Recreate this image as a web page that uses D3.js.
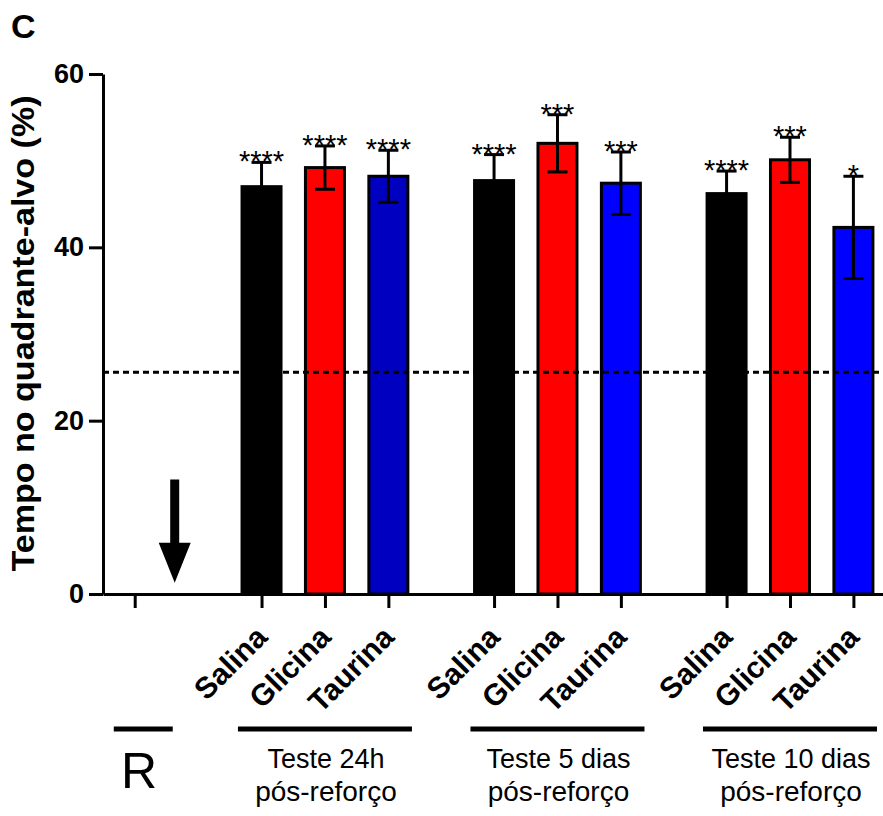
<!DOCTYPE html>
<html>
<head>
<meta charset="utf-8">
<script src="https://cdn.jsdelivr.net/npm/d3@7"></script>
<style>
  html, body { margin: 0; padding: 0; background: #fff; }
  svg { display: block; }
  text { font-family: "Liberation Sans", Arial, sans-serif; fill: #000; }
</style>
</head>
<body>
<svg id="chart" width="883" height="816"></svg>
<script>
// Treatments within each test session
const treatments = ["Salina", "Glicina", "Taurina"];
// Test sessions (two-line labels under the brackets)
const sessionLine1 = ["Teste 24h", "Teste 5 dias", "Teste 10 dias"];
const sessionLine2 = ["pós-reforço", "pós-reforço", "pós-reforço"];
// Mean time in target quadrant (%) per session
const salinaMean  = [47.0, 47.7, 46.2];
const glicinaMean = [49.2, 52.0, 50.1];
const taurinaMean = [48.2, 47.4, 42.3];
// Standard error of the mean per session
const salinaSem  = [2.8, 3.0, 2.6];
const glicinaSem = [2.5, 3.3, 2.6];
const taurinaSem = [3.0, 3.6, 5.9];
// Significance marks vs. chance level
const salinaStars  = ["****", "****", "****"];
const glicinaStars = ["****", "***", "***"];
const taurinaStars = ["****", "***", "*"];
// Chance level (dashed reference line)
const chanceLevel = 25.6;
// Y axis ticks
const yTicks = [0, 20, 40, 60];
// Reinforcement (R) arrow span, in % units
const arrowTop = 13.2;
const arrowTip = 1.3;

const FONT = '"Liberation Sans", Arial, sans-serif';
const fills = {
  Salina: ["#000000", "#000000", "#000000"],
  Glicina: ["#ff0000", "#ff0000", "#ff0000"],
  Taurina: ["#0000c0", "#0000ff", "#0000ff"]
};

const means = { Salina: salinaMean, Glicina: glicinaMean, Taurina: taurinaMean };
const sems = { Salina: salinaSem, Glicina: glicinaSem, Taurina: taurinaSem };
const stars = { Salina: salinaStars, Glicina: glicinaStars, Taurina: taurinaStars };

// Slot layout: R at slot 0, sessions start at slot 2, separated by an extra gap
const groupGap = 2 / 3;
const slotOf = (g, m) => 2 + g * (treatments.length + groupGap) + m;

const bars = [];
sessionLine1.forEach((s, g) => {
  treatments.forEach((t, m) => {
    bars.push({ g, t, slot: slotOf(g, m), mean: means[t][g], sem: sems[t][g], star: stars[t][g], fill: fills[t][g] });
  });
});

const svg = d3.select("#chart");
const x = d3.scaleLinear().domain([-0.5, 11.8]).range([103, 883]);
const y = d3.scaleLinear().domain([0, 60]).range([594, 74]);
const barW = 42;

// Bars
svg.append("g").selectAll("rect").data(bars).join("rect")
  .attr("x", d => x(d.slot) - barW / 2 + 1.5)
  .attr("width", barW - 3)
  .attr("y", d => y(d.mean))
  .attr("height", d => y(0) - y(d.mean))
  .attr("fill", d => d.fill)
  .attr("stroke", "#000")
  .attr("stroke-width", 3);

// Error bars
const eg = svg.append("g").attr("stroke", "#000").attr("stroke-width", 3).attr("fill", "none");
bars.forEach(d => {
  const cx = x(d.slot);
  eg.append("line").attr("x1", cx).attr("x2", cx).attr("y1", y(d.mean - d.sem)).attr("y2", y(d.mean + d.sem));
  eg.append("line").attr("x1", cx - 10).attr("x2", cx + 10).attr("y1", y(d.mean + d.sem)).attr("y2", y(d.mean + d.sem));
  eg.append("line").attr("x1", cx - 10).attr("x2", cx + 10).attr("y1", y(d.mean - d.sem)).attr("y2", y(d.mean - d.sem));
});

// Significance asterisks
svg.append("g").selectAll("text").data(bars).join("text")
  .attr("x", d => x(d.slot))
  .attr("y", d => y(d.mean + d.sem) + 9)
  .attr("text-anchor", "middle")
  .attr("font-size", 29)
  .text(d => d.star);

// Chance level
svg.append("line")
  .attr("x1", x.range()[0]).attr("x2", x.range()[1])
  .attr("y1", y(chanceLevel)).attr("y2", y(chanceLevel))
  .attr("stroke", "#000").attr("stroke-width", 3).attr("stroke-dasharray", "6,4");

// Y axis
const yAxis = svg.append("g").attr("transform", `translate(${x.range()[0]},0)`)
  .call(d3.axisLeft(y).tickValues(yTicks).tickSize(14).tickSizeOuter(0).tickPadding(5));
yAxis.selectAll("path, line").attr("stroke", "#000").attr("stroke-width", 3);
yAxis.selectAll("text").attr("font-family", FONT).attr("font-size", 27).attr("font-weight", "bold").attr("fill", "#000");

// X axis
const tickSlots = [0].concat(bars.map(d => d.slot));
const tickLabels = [""].concat(bars.map(d => d.t));
const xAxis = svg.append("g").attr("transform", `translate(0,${y(0)})`)
  .call(d3.axisBottom(x).tickValues(tickSlots).tickSize(14).tickSizeOuter(0)
    .tickFormat((v, i) => tickLabels[i]));
xAxis.selectAll("path, line").attr("stroke", "#000").attr("stroke-width", 3);
xAxis.selectAll("text")
  .attr("font-family", FONT).attr("font-size", 30).attr("font-weight", "bold").attr("fill", "#000")
  .attr("text-anchor", "end").attr("x", 0).attr("y", 0).attr("dy", 0)
  .attr("transform", "translate(7,45) rotate(-45)");

// Y axis title
svg.append("text")
  .attr("transform", `translate(34,333.5) rotate(-90)`)
  .attr("text-anchor", "middle")
  .attr("font-size", 32).attr("font-weight", "bold")
  .attr("textLength", 476).attr("lengthAdjust", "spacingAndGlyphs")
  .text("Tempo no quadrante-alvo (%)");

// Panel letter
svg.append("text").attr("x", 11).attr("y", 38)
  .attr("font-size", 34).attr("font-weight", "bold").text("C");

// Reinforcement arrow
const ax = x(0) + 40;
const shaftW = 9, headW = 32, headH = 40;
svg.append("path")
  .attr("d", `M${ax - shaftW / 2},${y(arrowTop)} L${ax + shaftW / 2},${y(arrowTop)} L${ax + shaftW / 2},${y(arrowTip) - headH}
    L${ax + headW / 2},${y(arrowTip) - headH} L${ax},${y(arrowTip)} L${ax - headW / 2},${y(arrowTip) - headH}
    L${ax - shaftW / 2},${y(arrowTip) - headH} Z`)
  .attr("fill", "#000");

// Group brackets and labels
const bracketY = 729;
svg.append("line").attr("x1", x(-0.33)).attr("x2", x(0.6)).attr("y1", bracketY).attr("y2", bracketY)
  .attr("stroke", "#000").attr("stroke-width", 5);
svg.append("text").attr("x", x(0.07)).attr("y", 788).attr("text-anchor", "middle")
  .attr("font-size", 50).text("R");

sessionLine1.forEach((s, g) => {
  const c = x(slotOf(g, 1));
  svg.append("line").attr("x1", c - 87).attr("x2", c + 87).attr("y1", bracketY).attr("y2", bracketY)
    .attr("stroke", "#000").attr("stroke-width", 5);
  svg.append("text").attr("x", c + 1).attr("y", 768).attr("text-anchor", "middle")
    .attr("font-size", 27).text(s);
  svg.append("text").attr("x", c + 1).attr("y", 801).attr("text-anchor", "middle")
    .attr("font-size", 28).text(sessionLine2[g]);
});
</script>
</body>
</html>
